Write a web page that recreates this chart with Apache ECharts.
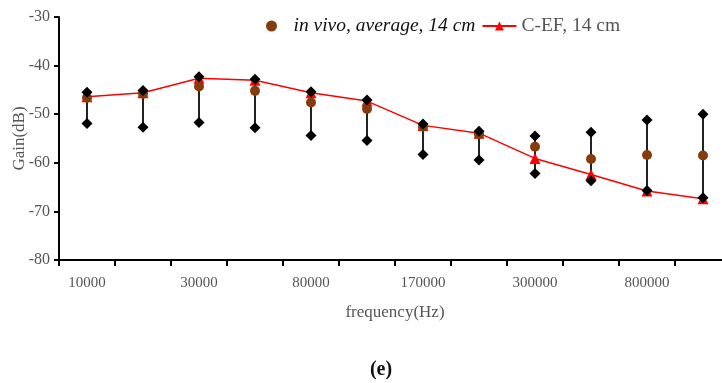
<!DOCTYPE html>
<html>
<head>
<meta charset="utf-8">
<script src="https://cdn.jsdelivr.net/npm/echarts@6/dist/echarts.min.js"></script>
<style>
html,body{margin:0;padding:0;background:#fff;}
#c{width:722px;height:383px;}
</style>
</head>
<body>
<div id="c"></div>
<script>
const categories = ['10000','20000','30000','50000','80000','100000','170000','200000','300000','500000','800000','1000000'];
const cefValues = [-46.4, -45.6, -42.6, -43.0, -45.6, -47.3, -52.3, -53.9, -59.1, -62.4, -65.8, -67.4];
const avgValues = [-46.6, -45.8, -44.3, -45.2, -47.6, -48.9, -52.6, -54.1, -56.7, -59.2, -58.4, -58.5];
const highValues = [-45.5, -45.1, -42.3, -42.8, -45.4, -47.1, -52.0, -53.5, -54.5, -53.7, -51.2, -50.0];
const lowValues = [-51.9, -52.7, -51.7, -52.8, -54.4, -55.4, -58.3, -59.4, -62.2, -63.7, -65.7, -67.2];
const yTicks = [-80, -70, -60, -50, -40, -30];

const serif = '"Liberation Serif", "Times New Roman", serif';
const chart = echarts.init(document.getElementById('c'));
const rangeData = categories.map((c, i) => [i, lowValues[i], highValues[i]]);

chart.setOption({
  animation: false,
  backgroundColor: '#fff',
  title: {
    text: '(e)', left: 376, top: 355, textAlign: 'center',
    textStyle: {fontFamily: serif, fontWeight: 'bold', fontSize: 20, color: '#111'}
  },
  legend: {
    left: 261, top: 11, itemGap: 6, itemWidth: 34, itemHeight: 11,
    data: [
      {name: 'in vivo, average, 14 cm', textStyle: {fontStyle: 'italic', color: '#111'}},
      {name: 'C-EF, 14 cm', textStyle: {color: '#555'}}
    ],
    textStyle: {fontFamily: serif, fontSize: 19.5}
  },
  grid: {left: 59, right: -9, top: 17, bottom: 123, containLabel: false, outerBoundsMode: 'none'},
  xAxis: {
    type: 'category', data: categories, boundaryGap: true,
    name: 'frequency(Hz)', nameLocation: 'middle', nameGap: 44,
    nameTextStyle: {fontFamily: serif, fontSize: 17, color: '#555'},
    axisLine: {lineStyle: {color: '#000', width: 2}},
    axisTick: {show: true, interval: 0, length: 6, lineStyle: {color: '#000', width: 2}},
    axisLabel: {interval: 1, margin: 16, fontFamily: serif, fontSize: 15, color: '#555'},
    splitLine: {show: false}
  },
  yAxis: {
    type: 'value', min: yTicks[0], max: yTicks[yTicks.length - 1], interval: 10,
    name: 'Gain(dB)', nameLocation: 'middle', nameGap: 31, nameRotate: 90, nameMoveOverlap: false,
    nameTextStyle: {fontFamily: serif, fontSize: 17, color: '#555'},
    axisLine: {show: true, lineStyle: {color: '#000', width: 2}},
    axisTick: {show: true, length: 5, lineStyle: {color: '#000', width: 2}},
    axisLabel: {margin: 9, fontFamily: serif, fontSize: 16, color: '#555'},
    splitLine: {show: false}
  },
  series: [
    {
      name: 'range', type: 'custom', data: rangeData, z: 2,
      encode: {x: 0, y: [1, 2]},
      renderItem: function (params, api) {
        const p1 = api.coord([api.value(0), api.value(1)]);
        const p2 = api.coord([api.value(0), api.value(2)]);
        return {type: 'line', shape: {x1: p1[0], y1: p1[1], x2: p2[0], y2: p2[1]},
          style: {stroke: '#222', lineWidth: 2}};
      },
      silent: true
    },
    {
      name: 'C-EF, 14 cm', type: 'line', data: cefValues, z: 3,
      symbol: 'triangle', symbolSize: 11,
      itemStyle: {color: '#ff0000', opacity: 1}, lineStyle: {color: '#ff0000', width: 1.5}
    },
    {
      name: 'in vivo, average, 14 cm', type: 'scatter', data: avgValues, z: 4,
      symbol: 'circle', symbolSize: 10, itemStyle: {color: '#843c0c', opacity: 1}
    },
    {
      name: 'high', type: 'scatter', data: highValues, z: 5,
      symbol: 'diamond', symbolSize: 11, itemStyle: {color: '#000', opacity: 1}
    },
    {
      name: 'low', type: 'scatter', data: lowValues, z: 5,
      symbol: 'diamond', symbolSize: 11, itemStyle: {color: '#000', opacity: 1}
    }
  ]
});
</script>
</body>
</html>
